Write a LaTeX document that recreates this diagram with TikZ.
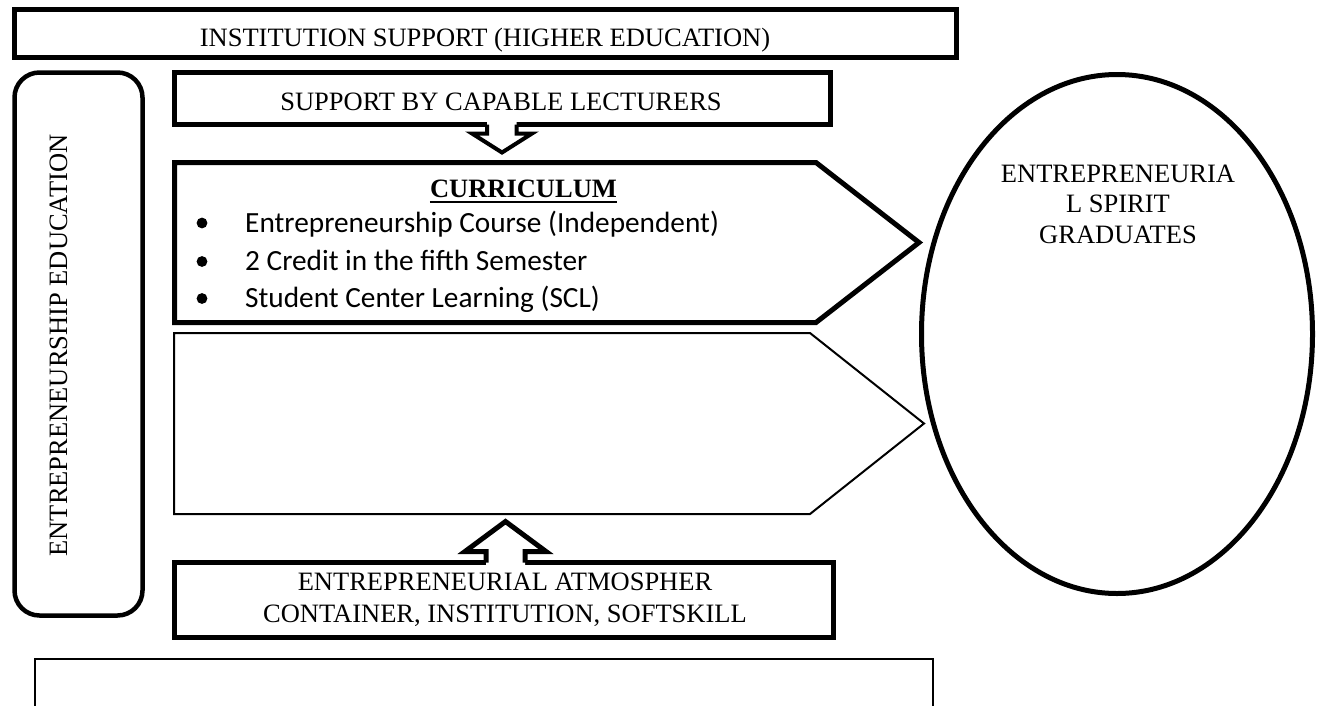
\documentclass[tikz,border=0pt]{standalone}
\usepackage{fontspec}
\setmainfont{Liberation Serif}
\newfontfamily\calibri{Carlito}
\begin{document}
\begin{tikzpicture}[x=1pt,y=-1pt,
  heavy/.style={line width=5pt, line join=miter},
  light/.style={line width=2pt, line join=miter},
  serif/.style={font=\fontsize{26.5}{30.5}\selectfont, inner sep=0pt, anchor=base},
  cal/.style={font=\calibri\fontsize{29.3}{35}\selectfont, inner sep=0pt, anchor=base west},
  dot/.style={fill=black}]
\useasboundingbox (0,0) rectangle (1317,705);

% top box
\draw[heavy] (14.75,9.75) rectangle (956.5,57.25);
\node[serif] (inst) at (485,46) {INSTITUTION SUPPORT (HIGHER EDUCATION)};

% left rounded box
\draw[line width=4.5pt, rounded corners=25pt] (14.5,72.5) rectangle (142.5,615.5);
\node[serif, rotate=90] (edu) at (67,345.5) {ENTREPRENEURSHIP EDUCATION};

% lecturers box
\draw[heavy] (174.5,72.5) rectangle (830,124.5);
\node[serif] (lect) at (501,110) {SUPPORT BY CAPABLE LECTURERS};

% down block arrow
\fill[white] (487,117) -- (487,133.5) -- (472,133.5) -- (502,152.5) -- (532,133.5) -- (516.5,133.5) -- (516.5,117) -- cycle;
\draw[line width=4pt, line join=miter] (487,124.5) -- (487,133.5) -- (472,133.5) -- (502,152.5) -- (532,133.5) -- (516.5,133.5) -- (516.5,124.5);

% curriculum chevron
\draw[heavy] (174.5,162.5) -- (816,162.5) -- (919,242.5) -- (816,322.5) -- (174.5,322.5) -- cycle;
\node[serif] (cur) at (523.5,197) {\bfseries CURRICULUM};
\draw[line width=1.6pt] ([yshift=-5pt]cur.base west) -- ([yshift=-5pt]cur.base east);
\fill[dot] (202,223) circle [radius=5.4pt];
\fill[dot] (202,261.5) circle [radius=5.4pt];
\fill[dot] (202,298.5) circle [radius=5.4pt];
\node[cal] (b1) at (245,232.5) {Entrepreneurship Course (Independent)};
\node[cal] (b2) at (245,270) {2 Credit in the fifth Semester};
\node[cal] (b3) at (245,307) {Student Center Learning (SCL)};

% second chevron
\draw[light] (174,333) -- (810,333) -- (924,423.5) -- (810,514) -- (174,514) -- cycle;

% atmosphere box
\draw[heavy] (174.5,562.5) rectangle (833.5,637.5);
\node[serif] (atm1) at (505,590) {ENTREPRENEURIAL ATMOSPHER};
\node[serif] (atm2) at (505,622) {CONTAINER, INSTITUTION, SOFTSKILL};

% up block arrow
\fill[white] (486,569) -- (486,551.5) -- (465,551.5) -- (505.5,521.5) -- (546,551.5) -- (525,551.5) -- (525,569) -- cycle;
\draw[heavy] (486,562.5) -- (486,551.5) -- (465,551.5) -- (505.5,521.5) -- (546,551.5) -- (525,551.5) -- (525,562.5);

% bottom open box
\draw[line width=2.5pt] (35,707) -- (35,659) -- (933,659) -- (933,707);

% ellipse
\draw[heavy] (1117,334) ellipse [x radius=195.5pt, y radius=259.5pt];
\node[serif] (g1) at (1118,182) {ENTREPRENEURIA};
\node[serif] (g2) at (1118,212) {L SPIRIT};
\node[serif] (g3) at (1118,243) {GRADUATES};
\end{tikzpicture}
\end{document}
